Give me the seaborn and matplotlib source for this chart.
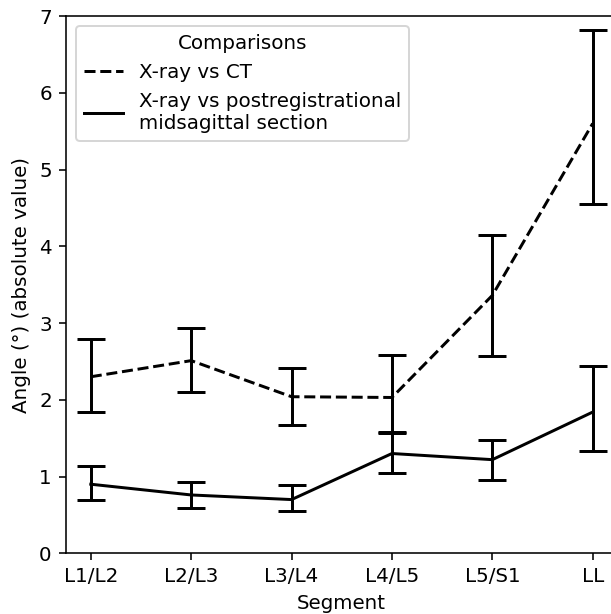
import matplotlib
matplotlib.use("Agg")
import matplotlib.pyplot as plt
import seaborn as sns
import numpy as np
import pandas as pd

segments = ["L1/L2", "L2/L3", "L3/L4", "L4/L5", "L5/S1", "LL"]

ct_label = "X-ray vs CT"
ct_mean = [2.30, 2.51, 2.04, 2.03, 3.36, 5.60]
ct_upper = [2.79, 2.94, 2.42, 2.58, 4.15, 6.82]
ct_lower = [1.84, 2.10, 1.67, 1.58, 2.57, 4.55]

ms_label = "X-ray vs postregistrational\nmidsagittal section"
ms_mean = [0.90, 0.76, 0.70, 1.30, 1.22, 1.84]
ms_upper = [1.14, 0.93, 0.89, 1.57, 1.48, 2.44]
ms_lower = [0.70, 0.59, 0.55, 1.05, 0.96, 1.33]

df = pd.DataFrame({
    "Segment": segments * 2,
    "Angle": ct_mean + ms_mean,
    "Comparison": [ct_label] * len(segments) + [ms_label] * len(segments),
})

DPI = 143
fig = plt.figure(figsize=(611 / DPI, 614 / DPI), dpi=DPI)
W, H = 611, 614
left, right, top, bottom = 65.7, 617.8, 16.0, 553.3
ax = fig.add_axes([left / W, (H - bottom) / H, (right - left) / W, (bottom - top) / H])

sns.lineplot(data=df, x="Segment", y="Angle", style="Comparison",
             style_order=[ct_label, ms_label],
             dashes={ct_label: (3.7, 1.6), ms_label: ""},
             color="black", linewidth=1.5, sort=False, ax=ax)

for mean, lo, hi in [(ct_mean, ct_lower, ct_upper), (ms_mean, ms_lower, ms_upper)]:
    mean = np.array(mean)
    yerr = np.vstack([mean - np.array(lo), np.array(hi) - mean])
    ax.errorbar(segments, mean, yerr=yerr, fmt="none", ecolor="black",
                elinewidth=1.5, capsize=7, capthick=1.5)

ax.set_ylim(0, 7)
ax.set_xlabel("Segment")
ax.set_ylabel("Angle (°) (absolute value)")
ax.legend(title="Comparisons", loc="upper left")

fig.savefig("out.png", dpi=DPI)
